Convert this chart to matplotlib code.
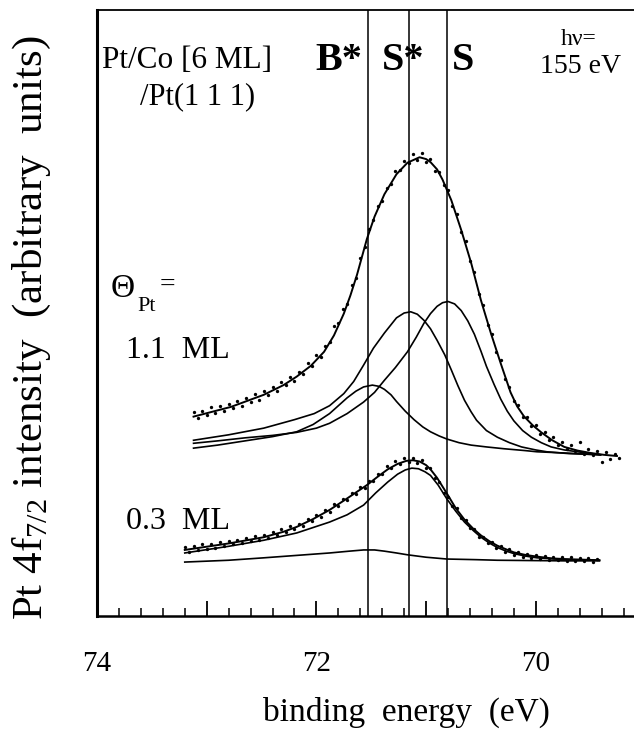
import matplotlib
matplotlib.use("Agg")
import matplotlib.pyplot as plt
from matplotlib.ticker import MultipleLocator, FuncFormatter

plt.rcParams['font.family'] = ['Liberation Serif', 'DejaVu Serif']
plt.rcParams['mathtext.fontset'] = 'custom'
plt.rcParams['mathtext.rm'] = 'Liberation Serif'
plt.rcParams['mathtext.it'] = 'Liberation Serif:italic'
plt.rcParams['mathtext.bf'] = 'Liberation Serif:bold'

# ---------------- data (binding energy in eV, intensity in arbitrary units) ----------------
# 1.1 ML spectrum: measured points
E_11 = [73.12, 73.08, 73.04, 73.00, 72.96, 72.92, 72.88, 72.84, 72.80, 72.76,
        72.72, 72.68, 72.64, 72.60, 72.56, 72.52, 72.48, 72.44, 72.40, 72.36,
        72.32, 72.28, 72.24, 72.20, 72.16, 72.12, 72.08, 72.04, 72.00, 71.96,
        71.92, 71.88, 71.84, 71.80, 71.76, 71.72, 71.68, 71.64, 71.60, 71.56,
        71.52, 71.48, 71.44, 71.40, 71.36, 71.32, 71.28, 71.24, 71.20, 71.16,
        71.12, 71.08, 71.04, 71.00, 70.96, 70.92, 70.88, 70.84, 70.80, 70.76,
        70.72, 70.68, 70.64, 70.60, 70.56, 70.52, 70.48, 70.44, 70.40, 70.36,
        70.32, 70.28, 70.24, 70.20, 70.16, 70.12, 70.08, 70.04, 70.00, 69.96,
        69.92, 69.88, 69.84, 69.80, 69.76, 69.72, 69.68, 69.64, 69.60, 69.56,
        69.52, 69.48, 69.44, 69.40, 69.36, 69.32, 69.28, 69.24]
I_11 = [33.6, 32.7, 33.9, 33.1, 34.5, 33.5, 34.6, 33.8, 35.0, 34.3,
        35.4, 34.6, 35.9, 35.3, 36.6, 35.7, 37.1, 36.4, 37.8, 37.2,
        38.6, 38.1, 39.5, 38.8, 40.3, 40.0, 41.7, 41.3, 43.0, 42.7,
        44.6, 45.2, 47.8, 48.3, 50.6, 51.5, 54.6, 55.7, 59.1, 60.9,
        63.8, 65.3, 67.6, 68.5, 70.6, 71.3, 73.5, 73.6, 75.0, 74.8,
        76.3, 75.2, 76.4, 74.9, 75.4, 73.5, 73.2, 71.1, 70.3, 67.7,
        66.4, 63.3, 61.8, 58.5, 56.7, 53.1, 51.4, 48.1, 46.6, 43.5,
        42.2, 39.1, 37.8, 35.5, 34.9, 32.8, 32.8, 31.3, 31.5, 30.0,
        30.4, 29.1, 29.5, 28.3, 28.7, 27.5, 28.2, 27.2, 28.7, 26.8,
        27.6, 26.5, 27.3, 25.4, 27.0, 25.9, 26.8, 26.0]

# 1.1 ML: total fit
E_11_fit = [73.12, 72.78, 72.48, 72.30, 72.18, 72.05, 71.93, 71.84, 71.75, 71.69,
            71.63, 71.54, 71.47, 71.38, 71.27, 71.17, 71.06, 71.00, 70.96, 70.90,
            70.85, 70.77, 70.68, 70.59, 70.50, 70.41, 70.32, 70.23, 70.17, 70.11,
            70.03, 69.95, 69.85, 69.74, 69.62, 69.50, 69.38, 69.26]
I_11_fit = [32.9, 34.5, 36.5, 38.1, 39.5, 41.3, 43.6, 46.3, 49.9, 52.9,
            56.3, 62.2, 65.9, 69.6, 72.9, 74.8, 75.7, 75.4, 74.9, 73.7,
            72.0, 68.6, 63.7, 58.3, 52.1, 46.7, 41.7, 36.9, 34.6, 33.0,
            31.5, 30.3, 29.0, 27.9, 27.3, 26.9, 26.6, 26.4]

# 1.1 ML: S* component
E_11_Sstar = [73.12, 72.80, 72.48, 72.20, 72.02, 71.88, 71.75, 71.66, 71.57, 71.48,
              71.38, 71.27, 71.20, 71.14, 71.08, 71.02, 70.96, 70.90, 70.83, 70.77,
              70.71, 70.65, 70.59, 70.54, 70.45, 70.35, 70.24, 70.13, 70.00, 69.90,
              69.70, 69.41]
I_11_Sstar = [29.0, 29.9, 31.0, 32.4, 33.4, 34.7, 36.7, 38.7, 41.4, 44.2,
              46.7, 49.2, 50.0, 50.2, 49.8, 48.8, 47.4, 45.5, 43.1, 40.6,
              38.0, 35.6, 33.7, 32.3, 30.6, 29.5, 28.6, 27.9, 27.4, 27.1,
              26.8, 26.6]

# 1.1 ML: B* component
E_11_Bstar = [73.12, 72.90, 72.65, 72.40, 72.18, 72.03, 71.88, 71.80, 71.72, 71.64,
              71.57, 71.49, 71.43, 71.38, 71.32, 71.27, 71.19, 71.11, 71.03, 70.96,
              70.88, 70.81, 70.70, 70.59, 70.45, 70.29, 70.10, 69.99, 69.74, 69.41]
I_11_Bstar = [27.7, 28.2, 28.9, 29.6, 30.4, 31.6, 33.4, 34.7, 36.0, 37.1,
              37.8, 38.1, 37.9, 37.4, 36.5, 35.4, 33.8, 32.4, 31.2, 30.4,
              29.7, 29.2, 28.6, 28.2, 27.9, 27.6, 27.3, 27.1, 26.9, 26.6]

# 1.1 ML: S component
E_11_S = [73.12, 72.90, 72.65, 72.40, 72.18, 72.00, 71.88, 71.72, 71.57, 71.47,
          71.38, 71.28, 71.17, 71.09, 71.02, 70.96, 70.90, 70.85, 70.80, 70.74,
          70.68, 70.62, 70.56, 70.50, 70.45, 70.38, 70.32, 70.26, 70.20, 70.12,
          70.04, 69.95, 69.86, 69.74, 69.62, 69.41]
I_11_S = [28.5, 28.9, 29.4, 29.8, 30.3, 31.0, 31.8, 33.4, 35.3, 36.9,
          38.9, 41.0, 43.6, 46.0, 48.3, 49.9, 51.1, 51.7, 51.9, 51.5,
          50.4, 48.7, 46.5, 43.7, 41.2, 38.2, 35.8, 33.8, 32.2, 30.6,
          29.5, 28.6, 27.9, 27.4, 27.1, 26.6]

# 0.3 ML spectrum: measured points
E_03 = [73.20, 73.16, 73.12, 73.08, 73.04, 73.00, 72.96, 72.92, 72.88, 72.84,
        72.80, 72.76, 72.72, 72.68, 72.64, 72.60, 72.56, 72.52, 72.48, 72.44,
        72.40, 72.36, 72.32, 72.28, 72.24, 72.20, 72.16, 72.12, 72.08, 72.04,
        72.00, 71.96, 71.92, 71.88, 71.84, 71.80, 71.76, 71.72, 71.68, 71.64,
        71.60, 71.56, 71.52, 71.48, 71.44, 71.40, 71.36, 71.32, 71.28, 71.24,
        71.20, 71.16, 71.12, 71.08, 71.04, 71.00, 70.96, 70.92, 70.88, 70.84,
        70.80, 70.76, 70.72, 70.68, 70.64, 70.60, 70.56, 70.52, 70.48, 70.44,
        70.40, 70.36, 70.32, 70.28, 70.24, 70.20, 70.16, 70.12, 70.08, 70.04,
        70.00, 69.96, 69.92, 69.88, 69.84, 69.80, 69.76, 69.72, 69.68, 69.64,
        69.60, 69.56, 69.52, 69.48, 69.44]
I_03 = [11.4, 10.6, 11.5, 10.9, 11.8, 11.1, 11.9, 11.3, 12.2, 11.6,
        12.4, 11.8, 12.6, 12.0, 12.9, 12.3, 13.2, 12.6, 13.4, 12.9,
        13.9, 13.4, 14.3, 13.8, 14.8, 14.3, 15.2, 14.9, 16.0, 15.6,
        16.7, 16.4, 17.5, 17.2, 18.4, 18.2, 19.3, 19.1, 20.3, 20.1,
        21.3, 21.1, 22.3, 22.2, 23.5, 23.4, 24.7, 24.4, 25.5, 25.1,
        26.0, 25.4, 26.1, 25.3, 25.7, 24.5, 24.4, 22.7, 22.1, 20.3,
        19.7, 18.1, 17.8, 16.2, 15.9, 14.6, 14.4, 13.1, 13.1, 12.1,
        12.2, 11.2, 11.5, 10.6, 11.0, 10.1, 10.6, 9.8, 10.3, 9.6,
        10.0, 9.4, 9.9, 9.3, 9.8, 9.2, 9.7, 9.1, 9.7, 9.0,
        9.6, 9.0, 9.5, 8.9, 9.4]

# 0.3 ML: total fit
E_03_fit = [73.20, 72.79, 72.48, 72.30, 72.18, 72.03, 71.88, 71.72, 71.54, 71.44,
            71.35, 71.26, 71.18, 71.12, 71.06, 71.00, 70.96, 70.90, 70.81, 70.73,
            70.65, 70.57, 70.50, 70.42, 70.35, 70.27, 70.20, 70.10, 69.99, 69.85,
            69.74, 69.42]
I_03_fit = [10.9, 12.0, 13.0, 13.9, 14.7, 16.0, 17.5, 19.4, 21.6, 23.0,
            24.2, 25.1, 25.6, 25.7, 25.5, 24.9, 24.2, 22.8, 20.2, 17.8,
            15.9, 14.4, 13.3, 12.3, 11.6, 11.0, 10.5, 10.1, 9.8, 9.5,
            9.4, 9.2]

# 0.3 ML: S* component
E_03_Sstar = [73.20, 72.80, 72.48, 72.18, 71.88, 71.72, 71.57, 71.46, 71.35, 71.26,
              71.19, 71.13, 71.07, 71.01, 70.96, 70.89, 70.81, 70.73, 70.65, 70.57,
              70.50, 70.42, 70.35, 70.27, 70.20, 70.10, 69.99, 69.74, 69.42]
I_03_Sstar = [10.4, 11.5, 12.5, 13.7, 15.5, 16.7, 18.3, 20.3, 22.1, 23.4,
              24.1, 24.4, 24.3, 23.8, 23.2, 21.6, 19.3, 17.3, 15.5, 14.1,
              13.0, 12.0, 11.3, 10.7, 10.3, 9.9, 9.6, 9.3, 9.2]

# 0.3 ML: B* component
E_03_Bstar = [73.20, 72.80, 72.48, 72.18, 71.88, 71.70, 71.57, 71.47, 71.38, 71.27,
              71.17, 71.00, 70.81, 70.55, 70.35, 69.74, 69.42]
I_03_Bstar = [8.9, 9.2, 9.6, 10.0, 10.4, 10.7, 10.9, 10.9, 10.7, 10.4,
              10.1, 9.7, 9.4, 9.3, 9.2, 9.1, 9.1]

# peak positions (vertical lines B*, S*, S)
line_E = [71.53, 71.16, 70.81]

x_ticks_labelled = [74, 72, 70]

# ---------------- figure ----------------
W, H = 634, 739
fig = plt.figure(figsize=(W / 100, H / 100), dpi=100)
ax = fig.add_axes([97 / W, 123 / H, 537 / W, 606 / H])
ax.set_xlim(74, 74 - 537 / 109.7)
ax.set_ylim(0, 100)

k = 'black'
ax.plot(E_11, I_11, 'o', ms=2.4, mew=0, color=k)
ax.plot(E_03, I_03, 'o', ms=2.4, mew=0, color=k)
for xs, ys, lw in [(E_11_fit, I_11_fit, 1.4), (E_11_Sstar, I_11_Sstar, 1.2),
                   (E_11_Bstar, I_11_Bstar, 1.2), (E_11_S, I_11_S, 1.2),
                   (E_03_fit, I_03_fit, 1.4), (E_03_Sstar, I_03_Sstar, 1.2),
                   (E_03_Bstar, I_03_Bstar, 1.2)]:
    ax.plot(xs, ys, '-', color=k, lw=lw, solid_joinstyle='round')

for e in line_E:
    ax.axvline(e, color=k, lw=1.1)

# axes styling
ax.spines['right'].set_visible(False)
ax.spines['left'].set_linewidth(2.2)
ax.spines['bottom'].set_linewidth(1.8)
ax.spines['top'].set_linewidth(1.3)
ax.set_yticks([])
ax.xaxis.set_major_locator(MultipleLocator(1))
ax.xaxis.set_minor_locator(MultipleLocator(0.2))
ax.xaxis.set_major_formatter(FuncFormatter(
    lambda v, p: f"{int(round(v))}" if int(round(v)) in x_ticks_labelled else ""))
ax.tick_params(axis='x', which='major', direction='in', length=11, width=1.3,
               pad=25, labelsize=21)
ax.tick_params(axis='x', which='minor', direction='in', length=6, width=1.1)


def ftext(x, y, s, **kw):
    fig.text(x / W, 1 - y / H, s, **kw)


# annotations
ftext(102, 68, "Pt/Co [6 ML]", fontsize=22.5, va='baseline', ha='left')
ftext(140, 104, "/Pt(1 1 1)", fontsize=22, va='baseline', ha='left')
ftext(315, 70, "B*", fontsize=29, fontweight='bold', va='baseline', ha='left')
ftext(382, 70, "S*", fontsize=29, fontweight='bold', va='baseline', ha='left')
ftext(452, 70, "S", fontsize=29, fontweight='bold', va='baseline', ha='left')
ftext(579, 45, "hν=", fontsize=17, va='baseline', ha='center')
ftext(580, 73, "155 eV", fontsize=20, va='baseline', ha='center')
ftext(111, 297, "Θ", fontsize=24, va='baseline', ha='left')
ftext(137, 311, "Pt", fontsize=16, va='baseline', ha='left')
ftext(160, 292, "=", fontsize=20, va='baseline', ha='left')
ftext(126, 358, "1.1  ML", fontsize=23, va='baseline', ha='left')
ftext(126, 529, "0.3  ML", fontsize=23, va='baseline', ha='left')

# axis labels
ftext(406, 721, "binding  energy  (eV)", fontsize=24, va='baseline', ha='center')
fig.text(42 / W, 1 - 328 / H, r"Pt 4f$_{\mathrm{7/2}}$ intensity  (arbitrary  units)",
         fontsize=31, rotation=90, rotation_mode='anchor', ha='center', va='baseline')

fig.savefig('out.png', dpi=100)
